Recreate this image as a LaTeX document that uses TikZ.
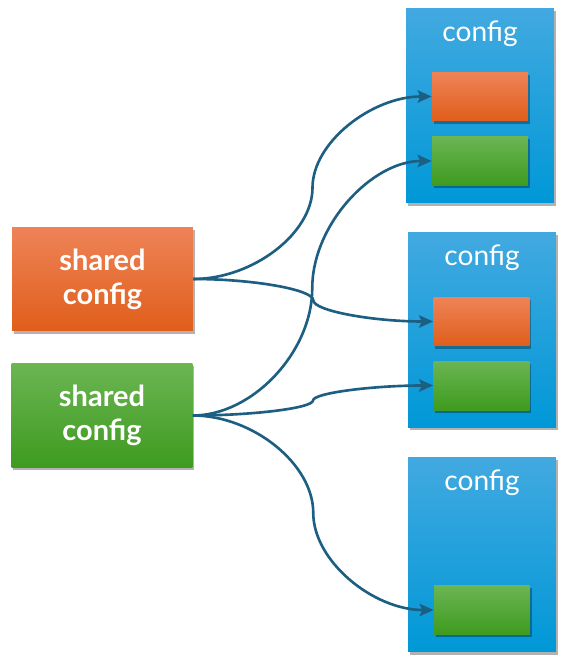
\documentclass[tikz,border=0pt]{standalone}
\usepackage{fontspec}
\setmainfont{Lato}
\usetikzlibrary{arrows.meta,calc,shadows}

\definecolor{orgtop}{HTML}{EE8357}
\definecolor{orgbot}{HTML}{E05E1B}
\definecolor{grntop}{HTML}{6BB553}
\definecolor{grnbot}{HTML}{3E9B1F}
\definecolor{blutop}{HTML}{42A9E0}
\definecolor{blubot}{HTML}{0098D7}
\definecolor{linkc}{HTML}{1C5F82}

\tikzset{
	shadowed/.style={drop shadow={shadow xshift=1pt,shadow yshift=-1.6pt,opacity=0.3,fill=black}},
	orgfill/.style={shadowed,top color=orgtop,bottom color=orgbot},
	grnfill/.style={shadowed,top color=grntop,bottom color=grnbot},
	shared/.style={minimum width=3.62cm,minimum height=2.08cm,inner sep=0pt,
		text=white,align=center,font=\bfseries\fontsize{16.5}{19.5}\selectfont},
	cfgbox/.style={shadowed,top color=blutop,bottom color=blubot,
		minimum width=2.96cm,minimum height=3.9cm,inner sep=0pt},
	cfgtext/.style={text=white,font=\fontsize{16}{19}\selectfont},
	slot/.style={minimum width=1.92cm,minimum height=0.98cm,inner sep=0pt},
	link/.style={linkc,line width=1.5pt,-{Stealth[length=8pt,width=7pt,inset=1.5pt]},
		to path={let \p1=(\tikztostart), \p2=(\tikztotarget) in
			.. controls ({0.75*\x1+0.25*\x2},\y1) and ({0.5*\x1+0.5*\x2},{0.75*\y1+0.25*\y2})
			.. ({0.5*\x1+0.5*\x2},{0.5*\y1+0.5*\y2})
			.. controls ({0.5*\x1+0.5*\x2},{0.25*\y1+0.75*\y2}) and ({0.25*\x1+0.75*\x2},\y2)
			.. (\tikztotarget)}}
}

\begin{document}
\begin{tikzpicture}[x=0.02cm,y=-0.02cm]
\useasboundingbox (0,0) rectangle (562,666);

% shared boxes
\node[shared,orgfill] (shO) at (102.5,279) {shared\\config};
\node[shared,grnfill] (shG) at (102,415.5) {shared\\config};

% config boxes
\node[cfgbox] (cfgA) at (480,105.5) {};
\node[cfgbox] (cfgB) at (482,330) {};
\node[cfgbox] (cfgC) at (482,554.5) {};
\foreach\c in {cfgA,cfgB,cfgC}{
	\node[cfgtext] (\c t) at ([yshift=-0.52cm]\c.north) {config};}

\node[slot,orgfill] (aO) at (480,96.5) {};
\node[slot,grnfill] (aG) at (480,161) {};
\node[slot,orgfill] (bO) at (481.5,321.5) {};
\node[slot,grnfill] (bG) at (481.5,385.5) {};
\node[slot,grnfill] (cG) at (482,610) {};

% links
\draw[link] (shO.east) to (aO.west);
\draw[link] (shO.east) to (bO.west);
\draw[link] (shG.east) to (aG.west);
\draw[link] (shG.east) to (bG.west);
\draw[link] (shG.east) to (cG.west);
\end{tikzpicture}
\end{document}
